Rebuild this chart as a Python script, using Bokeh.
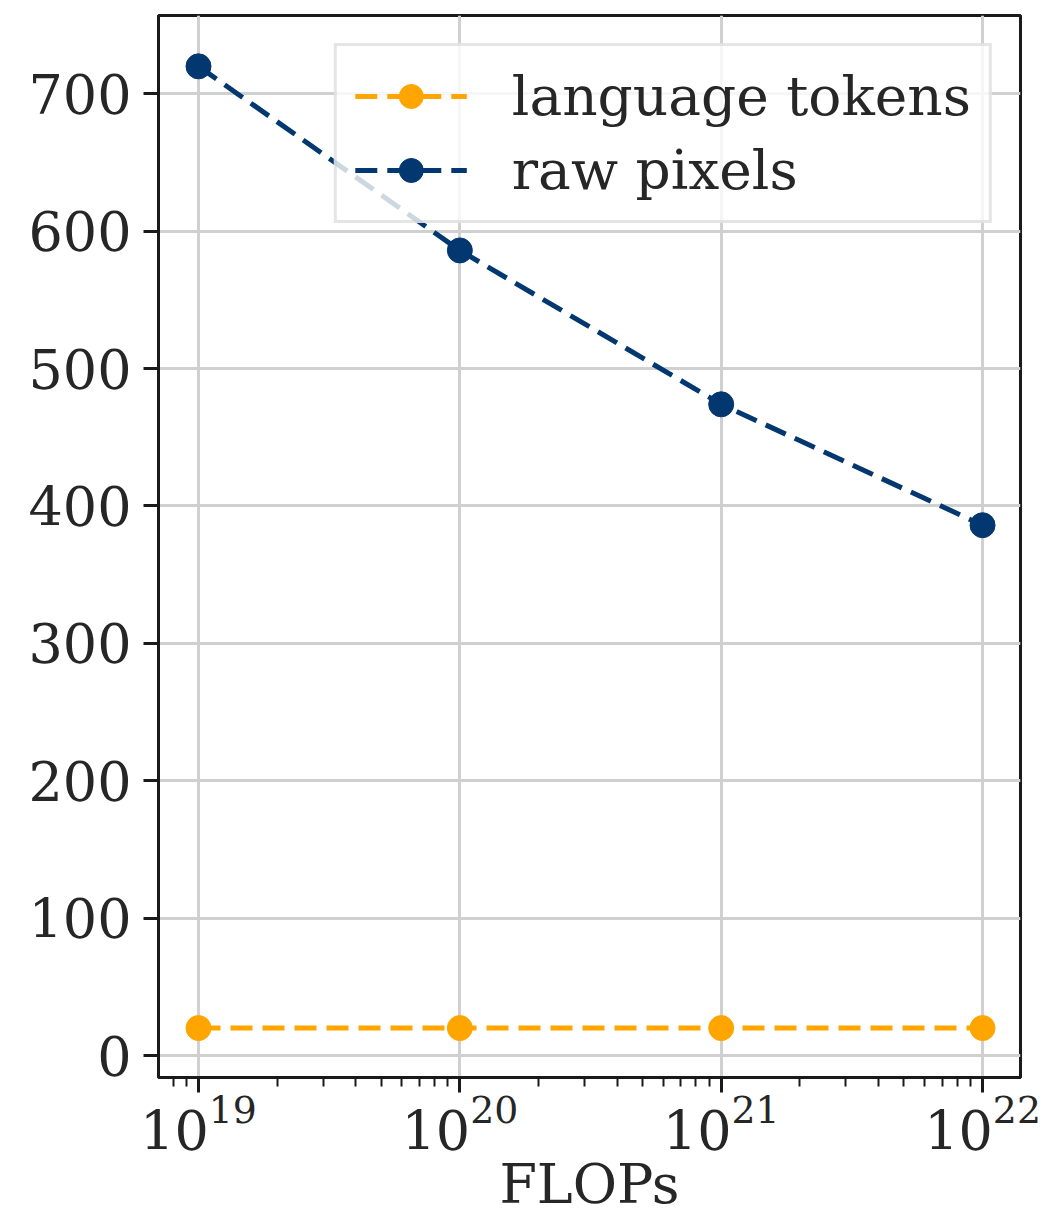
from bokeh.plotting import figure
from bokeh.models import (Range1d, FixedTicker, LogTicker, Legend, LegendItem)
from bokeh.embed import file_html
from bokeh.resources import INLINE

# Compute budget (FLOPs) and sequence length per series
flops = [1e19, 1e20, 1e21, 1e22]
language_tokens = [20, 20, 20, 20]
raw_pixels = [720, 586, 474, 386]

series_names = ["language tokens", "raw pixels"]
series_colors = ["#FFA500", "#02386f"]
y_ticks = [0, 100, 200, 300, 400, 500, 600, 700]
x_label = "FLOPs"

FONT = "DejaVu Serif"
TEXT = "#262626"

p = figure(
    width=1045, height=1227,
    x_axis_type="log",
    x_range=Range1d(7.03e18, 1.397e22),
    y_range=Range1d(-16, 757),
    output_backend="svg", toolbar_location=None,
    min_border_left=158, min_border_right=25,
    min_border_top=15, min_border_bottom=150,
)
p.background_fill_color = "white"
p.border_fill_color = "white"
p.outline_line_color = "#1a1a1a"
p.outline_line_width = 3
p.outline_line_alpha = 1.0

# axes
p.xaxis.ticker = LogTicker(num_minor_ticks=10)
p.yaxis.ticker = FixedTicker(ticks=y_ticks, minor_ticks=[])
for ax in (p.xaxis, p.yaxis):
    ax.axis_line_color = "#1a1a1a"
    ax.axis_line_width = 3
    ax.major_tick_line_color = "#1a1a1a"
    ax.major_tick_line_width = 3
    ax.major_tick_out = 15
    ax.major_tick_in = 0
    ax.minor_tick_line_color = "#1a1a1a"
    ax.minor_tick_line_width = 2
    ax.minor_tick_out = 9
    ax.minor_tick_in = 0
    ax.major_label_text_font = FONT
    ax.major_label_text_font_size = "54px"
    ax.major_label_text_color = TEXT
    ax.axis_label_text_font = FONT
    ax.axis_label_text_font_size = "54px"
    ax.axis_label_text_font_style = "normal"
    ax.axis_label_text_color = TEXT
p.yaxis.major_label_standoff = 12
p.xaxis.major_label_standoff = 2
p.xaxis.axis_label = x_label
p.xaxis.axis_label_standoff = 0

# grid
p.xgrid.ticker = FixedTicker(ticks=flops, minor_ticks=[])
p.ygrid.ticker = FixedTicker(ticks=y_ticks, minor_ticks=[])
for g in (p.xgrid, p.ygrid):
    g.grid_line_color = "#d0d0d0"
    g.grid_line_width = 3

items = []
for name, ys, color in zip(series_names, [language_tokens, raw_pixels], series_colors):
    ln = p.line(flops, ys, line_color=color, line_width=5, line_dash="22 10")
    sc = p.scatter(flops, ys, marker="circle", size=25, fill_color=color, line_color=color)
    items.append(LegendItem(label=name, renderers=[ln, sc]))

legend = Legend(
    items=items, location="top_right",
    margin=28, padding=18, spacing=10,
    glyph_width=112, glyph_height=60, label_height=60,
    label_standoff=45,
    label_text_font=FONT, label_text_font_size="55px", label_text_color=TEXT,
    border_line_color="#cccccc", border_line_width=3,
    background_fill_color="white", background_fill_alpha=0.8,
)
p.add_layout(legend)

open("out.html", "w").write(file_html(p, INLINE))
